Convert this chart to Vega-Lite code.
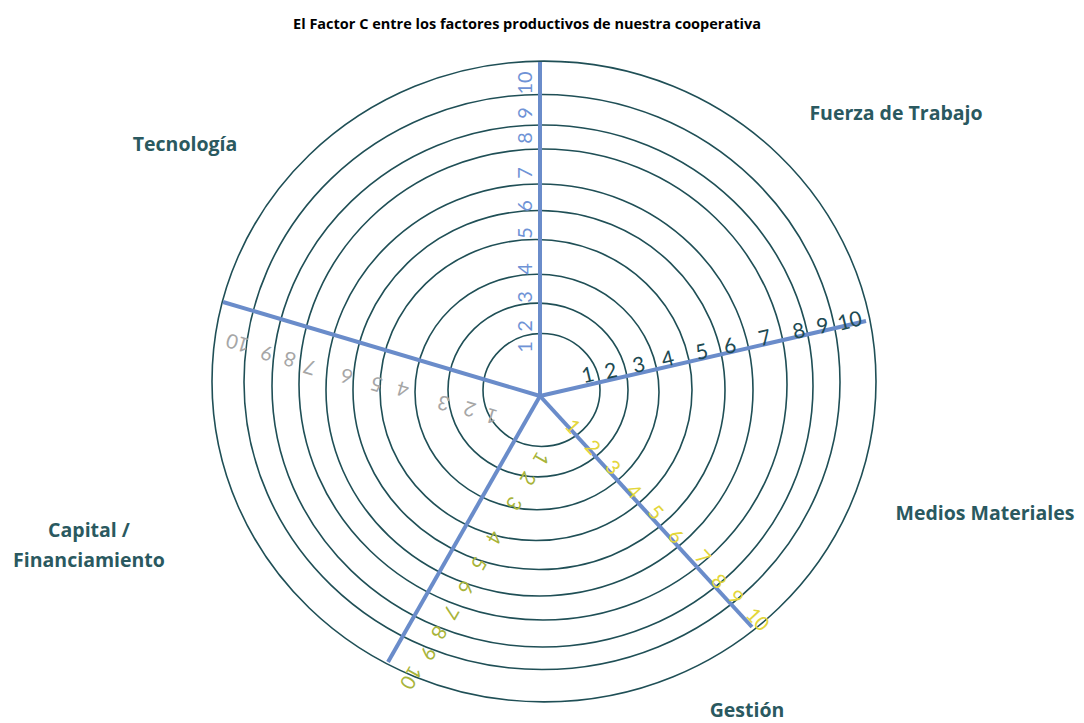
{
  "$schema": "https://vega.github.io/schema/vega-lite/v6.json",
  "width": 1084,
  "height": 723,
  "autosize": {"type": "none"},
  "padding": 0,
  "background": "white",
  "view": {"stroke": null},
  "config": {"font": "Lato"},
  "datasets": {
    "rings": [
      {"ring": 1, "cx": 1.5, "cy": 6, "r": 58.5},
      {"ring": 2, "cx": -2, "cy": 6, "r": 90},
      {"ring": 3, "cx": -3, "cy": 4, "r": 122},
      {"ring": 4, "cx": -4, "cy": 6, "r": 156},
      {"ring": 5, "cx": -1, "cy": 6, "r": 186},
      {"ring": 6, "cx": -0.5, "cy": 6, "r": 213.5},
      {"ring": 7, "cx": 3, "cy": 11.5, "r": 244},
      {"ring": 8, "cx": 2.5, "cy": 10, "r": 270.5},
      {"ring": 9, "cx": 2, "cy": 14, "r": 298},
      {"ring": 10, "cx": 4, "cy": 14.5, "r": 332}
    ],
    "spokes": [
      {"spoke": "norte", "x": 0, "y": 0, "x2": 0, "y2": 334},
      {"spoke": "este", "x": 0, "y": 0, "x2": 326, "y2": 75},
      {"spoke": "sureste", "x": 0, "y": 0, "x2": 212, "y2": -231},
      {"spoke": "suroeste", "x": 0, "y": 0, "x2": -152, "y2": -266},
      {"spoke": "oeste", "x": 0, "y": 0, "x2": -317, "y2": 94}
    ],
    "ticks": [
      {"spoke": "norte", "value": "1", "x": -14, "y": 49},
      {"spoke": "norte", "value": "2", "x": -14, "y": 70},
      {"spoke": "norte", "value": "3", "x": -14, "y": 99},
      {"spoke": "norte", "value": "4", "x": -14, "y": 127},
      {"spoke": "norte", "value": "5", "x": -14, "y": 163},
      {"spoke": "norte", "value": "6", "x": -14, "y": 190},
      {"spoke": "norte", "value": "7", "x": -14, "y": 223},
      {"spoke": "norte", "value": "8", "x": -14, "y": 258},
      {"spoke": "norte", "value": "9", "x": -14, "y": 283},
      {"spoke": "norte", "value": "10", "x": -14, "y": 313},
      {"spoke": "este", "value": "1", "x": 48, "y": 20},
      {"spoke": "este", "value": "2", "x": 71, "y": 24},
      {"spoke": "este", "value": "3", "x": 99, "y": 30},
      {"spoke": "este", "value": "4", "x": 128, "y": 36},
      {"spoke": "este", "value": "5", "x": 162, "y": 43},
      {"spoke": "este", "value": "6", "x": 190, "y": 49},
      {"spoke": "este", "value": "7", "x": 225, "y": 57},
      {"spoke": "este", "value": "8", "x": 259, "y": 64},
      {"spoke": "este", "value": "9", "x": 283, "y": 69},
      {"spoke": "este", "value": "10", "x": 310, "y": 74},
      {"spoke": "sureste", "value": "1", "x": 32, "y": -31},
      {"spoke": "sureste", "value": "2", "x": 52, "y": -52},
      {"spoke": "sureste", "value": "3", "x": 72, "y": -72},
      {"spoke": "sureste", "value": "4", "x": 93, "y": -96},
      {"spoke": "sureste", "value": "5", "x": 115, "y": -117},
      {"spoke": "sureste", "value": "6", "x": 135, "y": -141},
      {"spoke": "sureste", "value": "7", "x": 162, "y": -162},
      {"spoke": "sureste", "value": "8", "x": 178, "y": -186},
      {"spoke": "sureste", "value": "9", "x": 195, "y": -202},
      {"spoke": "sureste", "value": "10", "x": 217, "y": -224},
      {"spoke": "suroeste", "value": "1", "x": 0, "y": -62},
      {"spoke": "suroeste", "value": "2", "x": -13, "y": -82},
      {"spoke": "suroeste", "value": "3", "x": -27, "y": -107},
      {"spoke": "suroeste", "value": "4", "x": -47, "y": -141},
      {"spoke": "suroeste", "value": "5", "x": -62, "y": -167},
      {"spoke": "suroeste", "value": "6", "x": -75, "y": -191},
      {"spoke": "suroeste", "value": "7", "x": -90, "y": -216},
      {"spoke": "suroeste", "value": "8", "x": -102, "y": -236},
      {"spoke": "suroeste", "value": "9", "x": -113, "y": -257},
      {"spoke": "suroeste", "value": "10", "x": -130, "y": -281},
      {"spoke": "oeste", "value": "1", "x": -48, "y": -19},
      {"spoke": "oeste", "value": "2", "x": -70, "y": -12},
      {"spoke": "oeste", "value": "3", "x": -96, "y": -6},
      {"spoke": "oeste", "value": "4", "x": -137, "y": 8},
      {"spoke": "oeste", "value": "5", "x": -163, "y": 13},
      {"spoke": "oeste", "value": "6", "x": -193, "y": 21},
      {"spoke": "oeste", "value": "7", "x": -230, "y": 30},
      {"spoke": "oeste", "value": "8", "x": -250, "y": 38},
      {"spoke": "oeste", "value": "9", "x": -273, "y": 44},
      {"spoke": "oeste", "value": "10", "x": -302, "y": 54}
    ],
    "labels": [
      {"text": "Tecnología", "x": -355, "y": 251},
      {"text": "Fuerza de Trabajo", "x": 356, "y": 282},
      {"text": "Medios Materiales", "x": 445, "y": -118},
      {"text": "Capital /", "x": -451, "y": -135},
      {"text": "Financiamiento", "x": -451, "y": -165},
      {"text": "Gestión", "x": 207, "y": -315}
    ],
    "title": [
      {"text": "El Factor C entre los factores productivos de nuestra cooperativa", "x": -13, "y": 371}
    ]
  },
  "layer": [
    {
      "data": {"name": "rings"},
      "mark": {"type": "point", "filled": false, "opacity": 1, "strokeWidth": 1.6, "color": "#1f4f56",
        "shape": "M-1,0C-1,-0.533,-0.5523,-0.965,0,-0.965C0.5523,-0.965,1,-0.533,1,0C1,0.533,0.5523,0.965,0,0.965C-0.5523,0.965,-1,0.533,-1,0Z"},
      "encoding": {
        "x": {"field": "cx", "type": "quantitative", "scale": {"domain": [-540, 544], "nice": false, "zero": false}, "axis": null},
        "y": {"field": "cy", "type": "quantitative", "scale": {"domain": [-327, 396], "nice": false, "zero": false}, "axis": null},
        "size": {"field": "r", "type": "quantitative", "scale": {"type": "pow", "exponent": 2, "domain": [0, 100], "range": [0, 40000]}, "legend": null}
      }
    },
    {
      "data": {"name": "spokes"},
      "mark": {"type": "rule", "color": "#6a8cca", "strokeWidth": 4, "strokeCap": "butt"},
      "encoding": {
        "x": {"field": "x", "type": "quantitative"},
        "y": {"field": "y", "type": "quantitative"},
        "x2": {"field": "x2"},
        "y2": {"field": "y2"}
      }
    },
    {
      "data": {"name": "ticks"},
      "transform": [{"filter": "datum.spoke === 'norte'"}],
      "mark": {"type": "text", "angle": -90, "fontSize": 20, "color": "#6f93d6", "align": "center", "baseline": "middle"},
      "encoding": {
        "x": {"field": "x", "type": "quantitative"},
        "y": {"field": "y", "type": "quantitative"},
        "text": {"field": "value"}
      }
    },
    {
      "data": {"name": "ticks"},
      "transform": [{"filter": "datum.spoke === 'este'"}],
      "mark": {"type": "text", "angle": -13.3, "fontSize": 21, "color": "#1d4a52", "align": "center", "baseline": "middle"},
      "encoding": {
        "x": {"field": "x", "type": "quantitative"},
        "y": {"field": "y", "type": "quantitative"},
        "text": {"field": "value"}
      }
    },
    {
      "data": {"name": "ticks"},
      "transform": [{"filter": "datum.spoke === 'sureste'"}],
      "mark": {"type": "text", "angle": 47.5, "fontSize": 20, "color": "#e3d63a", "align": "center", "baseline": "middle"},
      "encoding": {
        "x": {"field": "x", "type": "quantitative"},
        "y": {"field": "y", "type": "quantitative"},
        "text": {"field": "value"}
      }
    },
    {
      "data": {"name": "ticks"},
      "transform": [{"filter": "datum.spoke === 'suroeste'"}],
      "mark": {"type": "text", "angle": 119.7, "fontSize": 20, "color": "#a8b43a", "align": "center", "baseline": "middle"},
      "encoding": {
        "x": {"field": "x", "type": "quantitative"},
        "y": {"field": "y", "type": "quantitative"},
        "text": {"field": "value"}
      }
    },
    {
      "data": {"name": "ticks"},
      "transform": [{"filter": "datum.spoke === 'oeste'"}],
      "mark": {"type": "text", "angle": 196.5, "fontSize": 20, "color": "#a6a6a6", "align": "center", "baseline": "middle"},
      "encoding": {
        "x": {"field": "x", "type": "quantitative"},
        "y": {"field": "y", "type": "quantitative"},
        "text": {"field": "value"}
      }
    },
    {
      "data": {"name": "labels"},
      "mark": {"type": "text", "font": "Open Sans", "fontSize": 19.5, "fontWeight": "bold", "color": "#2a5960", "align": "center", "baseline": "middle"},
      "encoding": {
        "x": {"field": "x", "type": "quantitative"},
        "y": {"field": "y", "type": "quantitative"},
        "text": {"field": "text"}
      }
    },
    {
      "data": {"name": "title"},
      "mark": {"type": "text", "font": "Open Sans", "fontSize": 14.5, "fontWeight": "bold", "color": "#000000", "align": "center", "baseline": "middle"},
      "encoding": {
        "x": {"field": "x", "type": "quantitative"},
        "y": {"field": "y", "type": "quantitative"},
        "text": {"field": "text"}
      }
    }
  ]
}
